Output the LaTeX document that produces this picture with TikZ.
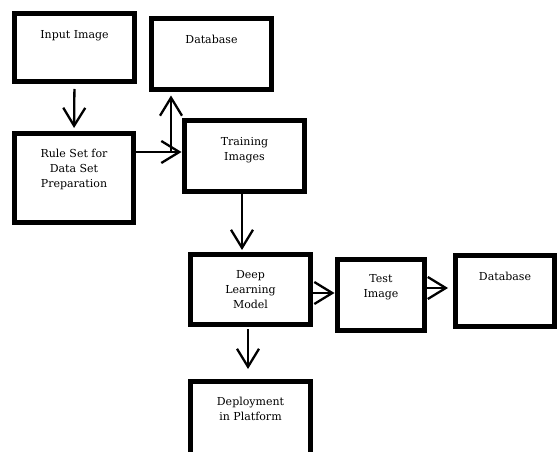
\documentclass[tikz,border=0pt]{standalone}
\usepackage{fontspec}
\setmainfont{DejaVu Serif}
\usetikzlibrary{arrows.meta}
\begin{document}
\begin{tikzpicture}[x=1pt,y=-1pt,
  box/.style={draw=black,line width=5pt,fill=white,outer sep=0pt,inner sep=0pt},
  txt/.style={anchor=north,inner sep=0pt,align=center,font=\fontsize{11}{15}\selectfont},
  arr/.style={draw=black,line width=2.3pt,-{Straight Barb[length=18pt,width=22pt]}}]
\useasboundingbox (0,0) rectangle (557,452);
\clip (0,0) rectangle (557,452);
% boxes
\node[box,minimum width=120pt,minimum height=68pt] (inp) at (74.5,47.5) {};
\node[box,minimum width=120pt,minimum height=71pt] (db1) at (211.5,54) {};
\node[box,minimum width=119pt,minimum height=89pt] (rule) at (74,178) {};
\node[box,minimum width=120pt,minimum height=71pt] (train) at (244.5,156) {};
\node[box,minimum width=120pt,minimum height=70pt] (dlm) at (250.5,289.5) {};
\node[box,minimum width=87pt,minimum height=71pt] (test) at (381,295) {};
\node[box,minimum width=99pt,minimum height=71pt] (db2) at (505,291) {};
\node[box,minimum width=120pt,minimum height=78pt] (dep) at (250.5,420.5) {};
% texts
\node[txt] (tinp) at ([yshift=-17pt]inp.north) {Input Image};
\node[txt] (tdb1) at ([yshift=-16.5pt]db1.north) {Database};
\node[txt] (trule) at ([yshift=-15.5pt]rule.north) {Rule Set for\\Data Set\\Preparation};
\node[txt] (ttrain) at ([yshift=-16.5pt]train.north) {Training\\Images};
\node[txt] (tdlm) at ([yshift=-15.5pt]dlm.north) {Deep\\Learning\\Model};
\node[txt] (ttest) at ([yshift=-14.5pt]test.north) {Test\\Image};
\node[txt] (tdb2) at ([yshift=-16.5pt]db2.north) {Database};
\node[txt] (tdep) at ([yshift=-15.5pt]dep.north) {Deployment\\in Platform};
% helper coordinates
\coordinate (j) at (171,152);
\coordinate (k) at (242,0);
\coordinate (m) at (0,293);
\coordinate (n) at (0,288);
\coordinate (p) at (248,0);
% connectors
\draw[arr,shorten <=7.5pt,shorten >=5.5pt] (inp.south) -- (rule.north);
\draw[arr,shorten >=3pt] (rule.east |- j) -- (train.west |- j);
\draw[arr,shorten >=6pt] (j) -- (db1.south -| j);
\draw[arr,shorten >=4.5pt] (train.south -| k) -- (dlm.north -| k);
\draw[arr,shorten <=2.5pt,shorten >=3pt] (dlm.east |- m) -- (test.west |- m);
\draw[arr,shorten <=2.5pt,shorten >=7.5pt] (test.east |- n) -- (db2.west |- n);
\draw[arr,shorten <=4.5pt,shorten >=12.5pt] (dlm.south -| p) -- (dep.north -| p);
\end{tikzpicture}
\end{document}
